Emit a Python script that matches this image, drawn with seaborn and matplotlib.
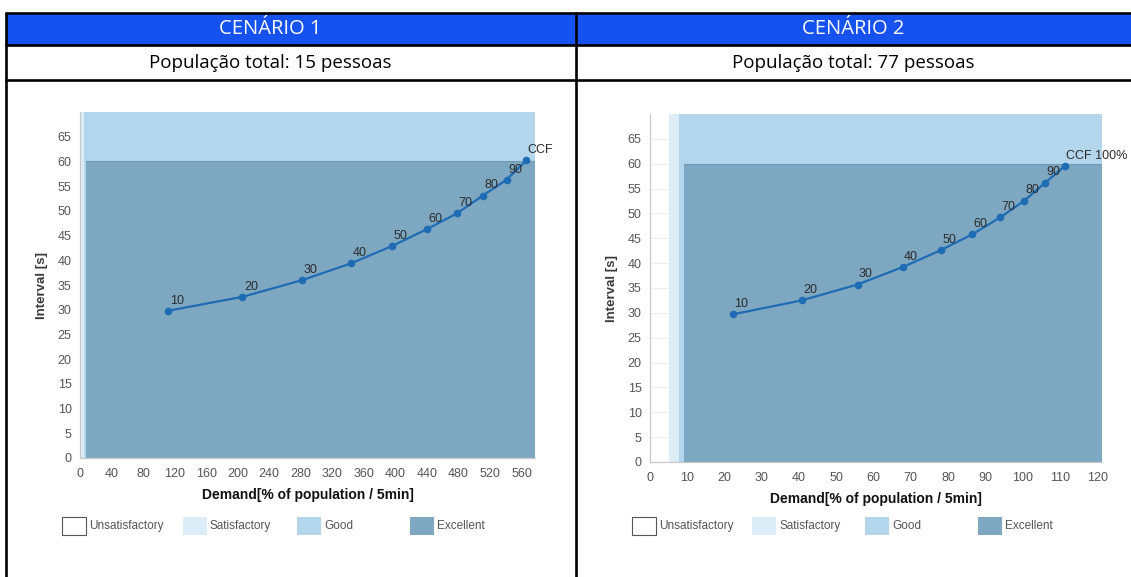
import seaborn as sns
import matplotlib.pyplot as plt
import pandas as pd
from matplotlib.patches import Rectangle
from matplotlib.lines import Line2D

# --- Data ---
levels_1 = ["10", "20", "30", "40", "50", "60", "70", "80", "90", "CCF"]
demand_1 = [112, 206, 282, 344, 396, 440, 478, 511, 541, 566]
interval_1 = [29.8, 32.6, 36.0, 39.4, 42.9, 46.3, 49.5, 53.1, 56.3, 60.2]

levels_2 = ["10", "20", "30", "40", "50", "60", "70", "80", "90", "CCF 100%"]
demand_2 = [22.2, 40.7, 55.7, 67.8, 78.0, 86.5, 94.0, 100.5, 106.1, 111.4]
interval_2 = [29.7, 32.5, 35.7, 39.2, 42.6, 45.8, 49.2, 52.6, 56.2, 59.6]

# zone boundaries on the demand axis: satisfactory, good, excellent start
zones_1 = [1, 5, 8]
zones_2 = [5.1, 7.8, 9.1]
excellent_limit = 60

xticks_1 = list(range(0, 561, 40))
xticks_2 = list(range(0, 121, 10))
yticks = list(range(0, 66, 5))

headers = ["CENÁRIO 1", "CENÁRIO 2"]
subtitles = ["População total: 15 pessoas", "População total: 77 pessoas"]
legend_names = ["Unsatisfactory", "Satisfactory", "Good", "Excellent"]

# --- Styling ---
sns.set_style("white")
plt.rcParams["font.family"] = ["Liberation Sans", "DejaVu Sans"]

C_SAT = "#DCEDF8"
C_GOOD = "#B3D6ED"
C_EXC = "#7EA7C2"
C_LINE = "#1D6CB4"
C_TEXT = "#555555"
ZONE_COLORS = ["white", C_SAT, C_GOOD, C_EXC]

W, H = 1131, 577
fig = plt.figure(figsize=(W / 100, H / 100), dpi=100)


def fx(x):
    return x / W


def fy(y):
    return 1 - y / H


# --- Table frame ---
fig.add_artist(Rectangle((fx(6), fy(45)), fx(W) - fx(6), fy(13) - fy(45),
                         facecolor="#1652F0", edgecolor="none",
                         transform=fig.transFigure))
for y in [13, 45, 80]:
    fig.add_artist(Line2D([fx(6), 1], [fy(y), fy(y)], color="black", lw=1.9,
                          transform=fig.transFigure))
for x in [6, 576]:
    fig.add_artist(Line2D([fx(x), fx(x)], [fy(13), 0], color="black", lw=1.9,
                          transform=fig.transFigure))

for cx, head, sub in zip([270, 853], headers, subtitles):
    fig.text(fx(cx), fy(29), head, color="white", fontsize=14.5,
             family="Open Sans", ha="center", va="center")
    fig.text(fx(cx), fy(63), sub, color="black", fontsize=13.5,
             family="Open Sans", ha="center", va="center")

panels = [
    dict(rect=(80, 112, 535, 458), xmax=577, demand=demand_1, interval=interval_1,
         levels=levels_1, zones=zones_1, xticks=xticks_1, ylab_x=42,
         legend_x=[62, 183, 297, 410]),
    dict(rect=(650, 114, 1102, 462), xmax=121.3, demand=demand_2, interval=interval_2,
         levels=levels_2, zones=zones_2, xticks=xticks_2, ylab_x=612,
         legend_x=[632, 752, 865, 978]),
]

for p in panels:
    x0, y0, x1, y1 = p["rect"]
    ax = fig.add_axes([fx(x0), fy(y1), fx(x1) - fx(x0), fy(y0) - fy(y1)])
    ax.set_xlim(0, p["xmax"])
    ax.set_ylim(0, 70)

    # zone backgrounds
    sat, good, exc = p["zones"]
    ax.axvspan(sat, good, color=C_SAT, lw=0, zorder=1)
    ax.axvspan(good, p["xmax"], color=C_GOOD, lw=0, zorder=1)
    ax.fill_between([exc, p["xmax"]], 0, excellent_limit, color=C_EXC, lw=0, zorder=2)
    ax.axhline(excellent_limit, xmin=exc / p["xmax"], color="#6F98B4", lw=0.8, zorder=2)

    # curve
    df = pd.DataFrame({"demand": p["demand"], "interval": p["interval"]})
    sns.lineplot(data=df, x="demand", y="interval", ax=ax, color=C_LINE, lw=1.6,
                 marker="o", markersize=5.5, markeredgewidth=0, zorder=5)
    for xv, yv, lab in zip(p["demand"], p["interval"], p["levels"]):
        ax.annotate(lab, (xv, yv), xytext=(1, 3), textcoords="offset points",
                    fontsize=9, color="#2b2b2b", ha="left", va="bottom", zorder=6)

    ax.set_yticks(yticks)
    ax.set_xticks(p["xticks"])
    ax.yaxis.grid(True, color="#EDEDED", lw=0.8, zorder=0)
    ax.set_axisbelow(True)
    ax.tick_params(length=0, labelsize=9, labelcolor=C_TEXT, pad=6)
    ax.tick_params(axis="x", pad=7)
    for s in ["top", "right"]:
        ax.spines[s].set_visible(False)
    for s in ["left", "bottom"]:
        ax.spines[s].set_color("#C8C8C8")
        ax.spines[s].set_linewidth(0.9)
    ax.set_xlabel("")
    ax.set_ylabel("")

    fig.text(fx(p["ylab_x"]), fy((y0 + y1) / 2), "Interval [s]", rotation=90,
             fontsize=9.5, color="#3a3a3a", ha="center", va="center", weight="bold")
    fig.text(fx((x0 + x1) / 2), fy(y1 + 37), "Demand[% of population / 5min]",
             fontsize=10, color="#111111", ha="center", va="center", weight="bold")

    # legend boxes
    for lx, name, col in zip(p["legend_x"], legend_names, ZONE_COLORS):
        fig.add_artist(Rectangle((fx(lx), fy(535)), fx(24), fy(517) - fy(535),
                                 facecolor=col,
                                 edgecolor="#555555" if col == "white" else "none",
                                 lw=0.8, transform=fig.transFigure))
        fig.text(fx(lx + 27), fy(526), name, fontsize=8.5, color=C_TEXT,
                 ha="left", va="center")

fig.savefig("out.png", dpi=100)
plt.close(fig)
